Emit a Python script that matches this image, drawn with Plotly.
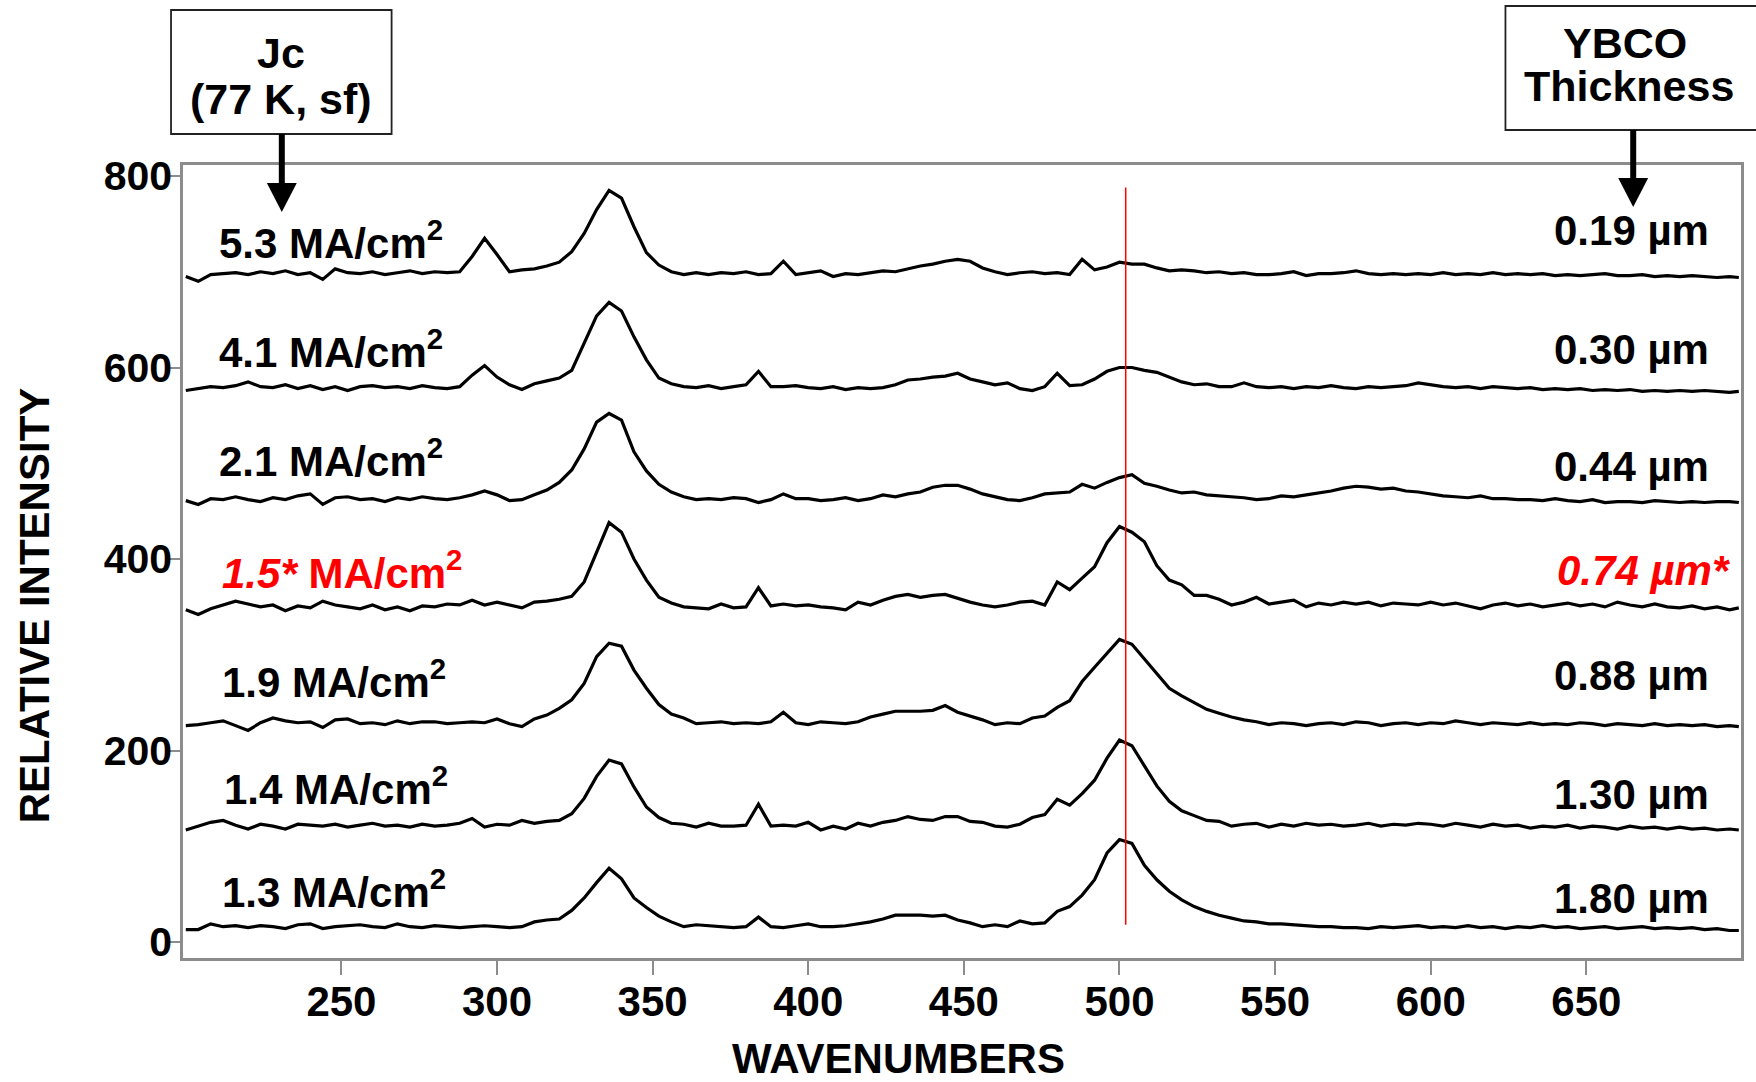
import plotly.graph_objects as go

# ---------------- data ----------------
wavenumbers = [
    200, 204, 208, 212, 216, 220, 224, 228, 232, 236,
    240, 244, 248, 252, 256, 260, 264, 268, 272, 276,
    280, 284, 288, 292, 296, 300, 304, 308, 312, 316,
    320, 324, 328, 332, 336, 340, 344, 348, 352, 356,
    360, 364, 368, 372, 376, 380, 384, 388, 392, 396,
    400, 404, 408, 412, 416, 420, 424, 428, 432, 436,
    440, 444, 448, 452, 456, 460, 464, 468, 472, 476,
    480, 484, 488, 492, 496, 500, 504, 508, 512, 516,
    520, 524, 528, 532, 536, 540, 544, 548, 552, 556,
    560, 564, 568, 572, 576, 580, 584, 588, 592, 596,
    600, 604, 608, 612, 616, 620, 624, 628, 632, 636,
    640, 644, 648, 652, 656, 660, 664, 668, 672, 676,
    680, 684, 688, 692, 696, 699,
]

spectrum_jc53 = [
    695, 690, 697, 698, 699, 697, 700, 698, 701, 697,
    699, 692, 703, 699, 698, 700, 697, 699, 701, 698,
    700, 699, 700, 716, 735, 718, 700, 702, 703, 706,
    710, 721, 740, 765, 785, 777, 747, 720, 707, 700,
    697, 699, 697, 699, 698, 700, 697, 698, 711, 697,
    699, 701, 695, 698, 697, 699, 701, 700, 703, 706,
    708, 711, 713, 711, 704, 700, 697, 699, 700, 698,
    699, 697, 713, 702, 705, 710, 708, 708, 704, 701,
    702, 701, 699, 700, 698, 699, 697, 697, 698, 700,
    696, 698, 698, 699, 701, 698, 697, 698, 697, 698,
    697, 699, 697, 698, 697, 699, 697, 698, 697, 698,
    696, 697, 696, 697, 698, 696, 696, 697, 695, 696,
    695, 696, 695, 694, 695, 694,
]

spectrum_jc41 = [
    576, 578, 580, 579, 581, 585, 580, 579, 582, 578,
    581, 577, 580, 576, 580, 581, 579, 580, 578, 581,
    579, 578, 580, 592, 602, 590, 582, 577, 583, 586,
    589, 597, 625, 654, 668, 659, 632, 608, 589, 583,
    580, 579, 581, 578, 580, 582, 596, 580, 580, 581,
    579, 578, 580, 577, 579, 578, 579, 582, 587, 588,
    590, 591, 594, 588, 585, 582, 584, 578, 576, 580,
    594, 581, 582, 588, 596, 600, 600, 597, 595, 590,
    585, 582, 583, 580, 580, 584, 580, 579, 580, 578,
    580, 579, 581, 579, 578, 580, 579, 580, 581, 584,
    582, 580, 579, 580, 578, 580, 579, 578, 579, 577,
    578, 577, 578, 576, 577, 576, 577, 575, 576, 575,
    576, 575, 576, 575, 574, 575,
]

spectrum_jc21 = [
    461, 457, 463, 462, 465, 462, 460, 464, 462, 466,
    468, 457, 464, 465, 462, 463, 460, 464, 462, 465,
    463, 462, 464, 467, 471, 467, 461, 462, 467, 472,
    480, 493, 515, 543, 552, 545, 512, 492, 478, 470,
    465, 462, 463, 462, 464, 463, 459, 462, 468, 463,
    463, 461, 462, 464, 461, 463, 467, 465, 468, 470,
    475, 477, 477, 473, 468, 465, 462, 461, 464, 468,
    469, 470, 478, 474, 480, 485, 488, 479, 476, 472,
    469, 470, 467, 466, 465, 464, 462, 463, 466, 465,
    467, 469, 471, 474, 476, 475, 473, 474, 471, 470,
    468, 466, 465, 464, 466, 463, 463, 462, 462, 461,
    463, 461, 460, 462, 459, 460, 460, 459, 461, 460,
    459, 460, 459, 460, 460, 459,
]

spectrum_jc15 = [
    347, 342, 348, 352, 356, 353, 350, 352, 346, 351,
    349, 356, 352, 350, 348, 352, 347, 350, 346, 351,
    350, 353, 352, 357, 352, 355, 352, 349, 355, 356,
    358, 361, 376, 408, 438, 428, 400, 378, 360, 354,
    350, 349, 348, 353, 349, 350, 370, 351, 353, 351,
    352, 350, 349, 347, 355, 352, 357, 361, 363, 360,
    362, 363, 359, 355, 352, 350, 352, 355, 356, 352,
    376, 368, 380, 392, 417, 434, 428, 418, 393, 378,
    373, 362, 362, 358, 352, 355, 360, 353, 355, 357,
    350, 354, 352, 355, 353, 355, 351, 354, 353, 352,
    355, 352, 354, 351, 348, 352, 354, 351, 353, 350,
    352, 354, 351, 353, 350, 355, 352, 350, 353, 350,
    349, 351, 348, 350, 347, 349,
]

spectrum_jc19 = [
    226, 227, 229, 231, 226, 221, 229, 234, 231, 229,
    230, 224, 232, 233, 228, 229, 227, 231, 228, 230,
    230, 228, 229, 230, 229, 233, 228, 225, 233, 237,
    244, 253, 270, 298, 312, 309, 284, 265, 248, 238,
    234, 228, 229, 230, 228, 229, 228, 230, 240, 229,
    227, 230, 229, 228, 230, 235, 238, 241, 241, 241,
    242, 247, 240, 236, 232, 227, 229, 228, 234, 236,
    245, 252, 272, 287, 302, 316, 311, 296, 281, 265,
    257, 250, 243, 239, 235, 232, 230, 227, 229, 228,
    226, 228, 229, 227, 230, 229, 226, 228, 229, 227,
    229, 228, 231, 229, 227, 229, 228, 227, 229, 227,
    228, 227, 229, 228, 226, 228, 227, 226, 228, 226,
    227, 226, 227, 225, 226, 225,
]

spectrum_jc14 = [
    117, 121, 125, 127, 122, 118, 123, 121, 118, 123,
    122, 121, 123, 120, 122, 124, 121, 122, 120, 123,
    121, 122, 124, 129, 120, 123, 122, 127, 124, 126,
    127, 134, 150, 173, 190, 186, 162, 141, 130, 124,
    123, 120, 124, 121, 121, 122, 144, 121, 122, 121,
    125, 117, 121, 118, 124, 121, 125, 127, 131, 128,
    127, 131, 131, 126, 125, 121, 120, 123, 130, 133,
    149, 143, 155, 169, 192, 211, 205, 184, 163, 147,
    137, 132, 127, 126, 121, 123, 124, 120, 123, 121,
    124, 122, 123, 121, 122, 124, 121, 123, 122, 124,
    123, 121, 124, 122, 120, 123, 121, 122, 119, 121,
    120, 122, 119, 121, 120, 118, 121, 119, 120, 118,
    120, 118, 119, 117, 118, 117,
]

spectrum_jc13 = [
    13, 13, 19, 16, 17, 15, 17, 16, 14, 18,
    19, 14, 16, 17, 18, 16, 15, 19, 16, 15,
    17, 16, 15, 16, 17, 16, 15, 16, 21, 23,
    24, 33, 46, 62, 77, 66, 46, 36, 27, 21,
    16, 18, 17, 16, 15, 16, 26, 16, 15, 17,
    19, 16, 16, 17, 19, 21, 24, 28, 28, 28,
    27, 28, 23, 20, 16, 18, 16, 22, 19, 20,
    32, 37, 49, 65, 93, 107, 103, 80, 65, 53,
    44, 37, 32, 28, 25, 22, 21, 19, 19, 18,
    17, 16, 16, 15, 15, 14, 16, 15, 16, 17,
    15, 16, 15, 17, 15, 16, 14, 16, 15, 17,
    15, 16, 14, 15, 16, 14, 15, 16, 14, 15,
    14, 15, 13, 14, 12, 12,
]

spectra = [spectrum_jc53, spectrum_jc41, spectrum_jc21, spectrum_jc15,
           spectrum_jc19, spectrum_jc14, spectrum_jc13]

jc_labels = ["5.3 MA/cm<sup>2</sup>", "4.1 MA/cm<sup>2</sup>", "2.1 MA/cm<sup>2</sup>",
             "<i>1.5*</i> MA/cm<sup>2</sup>", "1.9 MA/cm<sup>2</sup>",
             "1.4 MA/cm<sup>2</sup>", "1.3 MA/cm<sup>2</sup>"]
thickness_labels = ["0.19 µm", "0.30 µm", "0.44 µm", "<i>0.74 µm*</i>",
                    "0.88 µm", "1.30 µm", "1.80 µm"]
highlight = [False, False, False, True, False, False, False]

ref_wavenumber = 502
ref_span = [18, 788]

x_ticks = [250, 300, 350, 400, 450, 500, 550, 600, 650]
y_ticks = [0, 200, 400, 600, 800]

# ---------------- layout helpers ----------------
W, H = 1756, 1082
ML, MR, MT, MB = 183, 12, 165, 124
PW, PH = W - ML - MR, H - MT - MB


def px(x):
    return (x - ML) / PW


def py(y):
    return (H - MB - y) / PH


FONT = "Liberation Sans, Arial, Helvetica, sans-serif"
GRAY = "#8c8c8c"

fig = go.Figure()

for s in spectra:
    fig.add_trace(go.Scatter(x=wavenumbers, y=s, mode="lines",
                             line=dict(color="black", width=3.2),
                             hoverinfo="skip", showlegend=False))

fig.add_trace(go.Scatter(x=[ref_wavenumber, ref_wavenumber], y=ref_span, mode="lines",
                         line=dict(color="#ff0000", width=1.5),
                         hoverinfo="skip", showlegend=False))

annotations = []
# curve label placement (layout, data units)
left_label_x = [210, 210, 210, 211, 211, 211.6, 211]
left_label_y = [733, 619, 506, 389, 275, 163, 55]
right_label_y = [743, 619, 497, 388, 278, 154, 45]
for i in range(7):
    col = "#ff0000" if highlight[i] else "black"
    annotations.append(dict(x=left_label_x[i], y=left_label_y[i], xref="x", yref="y",
                            text="<b>" + jc_labels[i] + "</b>", showarrow=False,
                            xanchor="left", yanchor="middle",
                            font=dict(family=FONT, size=42, color=col)))
    rx = 696.8 if highlight[i] else 690.1
    annotations.append(dict(x=rx, y=right_label_y[i], xref="x", yref="y",
                            text="<b>" + thickness_labels[i] + "</b>", showarrow=False,
                            xanchor="right", yanchor="middle",
                            font=dict(family=FONT, size=42, color=col)))

# boxes text
for txt, cx, cy in [("Jc", 281, 53), ("(77 K, sf)", 281, 99),
                    ("YBCO", 1628, 43), ("Thickness", 1632, 86)]:
    annotations.append(dict(x=px(cx), y=py(cy), xref="paper", yref="paper",
                            text="<b>" + txt + "</b>", showarrow=False,
                            xanchor="center", yanchor="middle",
                            font=dict(family=FONT, size=43, color="black")))

# axis titles
annotations.append(dict(x=px(900), y=py(1058), xref="paper", yref="paper",
                        text="<b>WAVENUMBERS</b>", showarrow=False,
                        xanchor="center", yanchor="middle",
                        font=dict(family=FONT, size=42, color="black")))
annotations.append(dict(x=px(34), y=py(605), xref="paper", yref="paper",
                        text="<b>RELATIVE INTENSITY</b>", showarrow=False, textangle=-90,
                        xanchor="center", yanchor="middle",
                        font=dict(family=FONT, size=42, color="black")))

shapes = []
# boxes
shapes.append(dict(type="rect", xref="paper", yref="paper",
                   x0=px(171), x1=px(392), y0=py(134), y1=py(10),
                   line=dict(color="#222222", width=1.8), fillcolor="rgba(0,0,0,0)"))
shapes.append(dict(type="rect", xref="paper", yref="paper",
                   x0=px(1508), x1=px(1770), y0=py(130), y1=py(6),
                   line=dict(color="#222222", width=1.8), fillcolor="rgba(0,0,0,0)"))
# arrows
for ax_, ytop, yhead, ytip in [(282, 134, 183, 212), (1636, 130, 178, 207)]:
    shapes.append(dict(type="rect", xref="paper", yref="paper",
                       x0=px(ax_ - 3), x1=px(ax_ + 3), y0=py(yhead + 1), y1=py(ytop),
                       line=dict(width=0), fillcolor="black"))
    path = "M {:.5f},{:.5f} L {:.5f},{:.5f} L {:.5f},{:.5f} Z".format(
        px(ax_ - 15), py(yhead), px(ax_ + 15), py(yhead), px(ax_), py(ytip))
    shapes.append(dict(type="path", xref="paper", yref="paper", path=path,
                       line=dict(width=0), fillcolor="black"))

fig.update_layout(
    width=W, height=H,
    margin=dict(l=ML, r=MR, t=MT, b=MB, pad=0),
    paper_bgcolor="white", plot_bgcolor="white",
    showlegend=False,
    annotations=annotations,
    shapes=shapes,
    xaxis=dict(range=[199.1, 699.7], tickvals=x_ticks, ticks="outside", ticklen=14,
               tickwidth=2, tickcolor=GRAY, showline=True, linecolor=GRAY, linewidth=2.5,
               mirror=True, showgrid=False, zeroline=False, ticklabelstandoff=-9,
               tickfont=dict(family=FONT, size=42, color="black", weight="bold")),
    yaxis=dict(range=[-16.7, 811.5], tickvals=y_ticks, ticks="outside", ticklen=10,
               tickwidth=2, tickcolor=GRAY, showline=True, linecolor=GRAY, linewidth=2.5,
               mirror=True, showgrid=False, zeroline=False, ticklabelstandoff=-10,
               tickfont=dict(family=FONT, size=41, color="black", weight="bold")),
)

fig.write_html("out.html", config={"displayModeBar": False},
               post_script="document.body.style.margin='0';document.body.style.overflow='hidden';")
